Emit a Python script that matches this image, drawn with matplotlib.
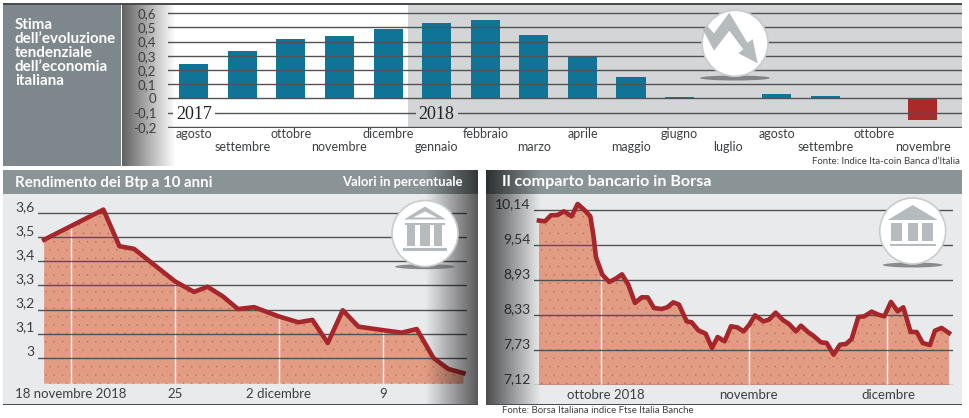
import numpy as np
import matplotlib
matplotlib.use('Agg')
import matplotlib.pyplot as plt
from matplotlib.patches import Rectangle, Circle, Ellipse, Polygon

W, H = 970, 418
plt.rcParams['font.family'] = ['Lato', 'DejaVu Sans']
plt.rcParams['hatch.linewidth'] = 0

# top chart
months = ['agosto', 'settembre', 'ottobre', 'novembre', 'dicembre', 'gennaio', 'febbraio', 'marzo',
          'aprile', 'maggio', 'giugno', 'luglio', 'agosto', 'settembre', 'ottobre', 'novembre']
estimate = [0.24, 0.335, 0.42, 0.44, 0.49, 0.53, 0.555, 0.45, 0.29, 0.15, 0.01, 0, 0.03, 0.015, 0.003, -0.15]
estimate_ticks = [0.6, 0.5, 0.4, 0.3, 0.2, 0.1, 0, -0.1, -0.2]
estimate_labels = ['0,6', '0,5', '0,4', '0,3', '0,2', '0,1', '0', '-0,1', '-0,2']

# Btp yield, x = days after 18 Nov 2018
btp_days = [-1.79, 2.2, 3.28, 4.26, 7.02, 8.3, 9.2, 10.23, 11.26, 12.34, 13.98, 15.32, 16.27, 17.3, 18.31,
            19.36, 21.05, 22.28, 23.29, 24.41, 25.42, 26.43]
btp_yield = [3.49, 3.615, 3.463, 3.452, 3.317, 3.273, 3.295, 3.255, 3.202, 3.21, 3.172, 3.147, 3.157, 3.061,
             3.197, 3.129, 3.114, 3.104, 3.119, 2.999, 2.953, 2.936]
btp_ticks = [3.6, 3.5, 3.4, 3.3, 3.2, 3.1, 3.0]
btp_tick_labels = ['3,6', '3,5', '3,4', '3,3', '3,2', '3,1', '3']
btp_xticks = [0, 7, 14, 21]
btp_xlabels = ['18 novembre 2018', '25', '2 dicembre', '9']

# bank index, x = position along the time axis
bank_x = [162, 180, 198, 218, 237, 260, 278, 297, 316, 325, 333, 352, 373, 392, 411, 430, 450, 470, 488, 507,
          530, 547, 565, 582, 605, 620, 640, 662, 681, 698, 719, 738, 757, 776, 793, 810, 835, 852, 872, 895,
          912, 933, 948, 970, 985, 1008, 1025, 1046, 1065, 1083, 1100, 1120, 1138, 1160, 1180, 1198, 1218,
          1238, 1255, 1277, 1295, 1313, 1335, 1350, 1370, 1392]
bank_value = [9.962, 9.95, 10.054, 10.059, 10.123, 10.036, 10.249, 10.152, 10.036, 9.72, 9.329, 9.03, 8.903,
              8.96, 9.035, 8.857, 8.54, 8.638, 8.638, 8.454, 8.437, 8.466, 8.552, 8.512, 8.224, 8.207, 8.069,
              8.011, 7.764, 7.953, 7.879, 8.138, 8.12, 8.051, 8.166, 8.327, 8.224, 8.253, 8.374, 8.241, 8.178,
              8.051, 8.149, 8.034, 7.976, 7.861, 7.85, 7.648, 7.821, 7.833, 7.919, 8.299, 8.31, 8.391, 8.339,
              8.31, 8.558, 8.397, 8.466, 8.04, 8.04, 7.85, 7.815, 8.063, 8.109, 8.022]
bank_ticks = [10.14, 9.54, 8.93, 8.33, 7.73, 7.12]
bank_tick_labels = ['10,14', '9,54', '8,93', '8,33', '7,73', '7,12']
bank_month_x = [347, 793, 1205]
bank_label_x = [364, 790, 1210]
bank_xlabels = ['ottobre 2018', 'novembre', 'dicembre']

TEXT = '#3c3f41'
GRID = '#4f5356'
BAND = '#8a9396'
BODY = '#e9eaec'
FILL = '#e39c84'
DOTS = '#c06f58'
LINE = '#a5262b'
ICON = '#b6bbbd'


def px_axes(fig, left, top, right, bottom, zorder):
    ax = fig.add_axes([left / W, 1 - bottom / H, (right - left) / W, (bottom - top) / H], zorder=zorder)
    ax.patch.set_visible(False)
    for s in ax.spines.values():
        s.set_visible(False)
    return ax


def fade(ax, x0, x1, y0, y1, a0, a1):
    # black overlay going from alpha a0 to alpha a1, left to right
    img = np.zeros((1, 128, 4))
    img[0, :, 3] = np.linspace(a0, a1, 128)
    ax.imshow(img, extent=(x0, x1, y1, y0), aspect='auto', interpolation='bilinear')


def line_chart(ax, x, y, bottom, month_x):
    ax.fill_between(x, y, bottom, facecolor=FILL, edgecolor=DOTS, hatch='..', linewidth=0, zorder=1)
    ax.vlines(month_x, bottom, np.interp(month_x, x, y), color='white', lw=1, zorder=1.5)
    ax.plot(x, y, color=LINE, lw=3.3, zorder=3, solid_joinstyle='round')
    ax.grid(axis='y', color=GRID, lw=1.0)
    ax.set_axisbelow(False)


def disc(ax, cx, cy, shadow_y, shadow_w):
    ax.add_patch(Ellipse((cx, shadow_y), shadow_w, 5, color='#55595c', alpha=0.65, lw=0))
    ax.add_patch(Circle((cx, cy), 33, facecolor='white', edgecolor='#c9cccd', lw=1.2))


def rect(ax, x0, x1, y0, y1):
    ax.add_patch(Rectangle((x0, y0), x1 - x0, y1 - y0, color=ICON, lw=0))


fig = plt.figure(figsize=(W / 100, H / 100), dpi=100, facecolor='white')

# panels behind the charts
bg = px_axes(fig, 0, 0, W, H, 0)
bg.add_patch(Rectangle((408, 4), 554, 123, color='#d3d5d7', lw=0))
bg.add_patch(Rectangle((3, 4), 118, 162, color='#7e878b', lw=0))
fade(bg, 122, 176, 4, 166, 0.62, 0)
bg.set_xlim(0, W)
bg.set_ylim(H, 0)
bg.axis('off')
bg.add_patch(Rectangle((3, 3), 959, 1.6, color='#4a4d4f', lw=0))
bg.add_patch(Rectangle((3, 170), 475, 234, color=BODY, lw=0))
bg.add_patch(Rectangle((486, 170), 476, 234, color=BODY, lw=0))
bg.add_patch(Rectangle((3, 170), 475, 24, color=BAND, lw=0))
bg.add_patch(Rectangle((486, 170), 476, 24, color=BAND, lw=0))

# top bars
ax1 = px_axes(fig, 168, 10, 962, 127.7, 1)
pos = np.arange(len(months))
ax1.bar(pos, estimate, width=0.6, color=['#0f7495' if v >= 0 else '#a92a28' for v in estimate], zorder=1)
ax1.set_xlim(-0.529, 15.81)
ax1.set_ylim(-0.207, 0.623)
ax1.set_yticks(estimate_ticks)
ax1.set_yticklabels(estimate_labels, fontsize=9.5, color=TEXT, va='center_baseline')
ax1.set_xticks(pos)
ax1.set_xticklabels([m if i % 2 == 0 else '\n' + m for i, m in enumerate(months)], fontsize=9, color=TEXT,
                    linespacing=1.05)
ax1.tick_params(axis='both', length=0)
ax1.tick_params(axis='y', pad=8.5)
ax1.tick_params(axis='x', pad=0.5)
ax1.grid(axis='y', color=GRID, lw=1.0)
ax1.set_axisbelow(False)
for x_txt, year, bgcol in [(0, '2017', 'white'), (5, '2018', '#d3d5d7')]:
    ax1.text(x_txt, -0.1, year, family='Liberation Serif', fontsize=13, color='#222222', ha='center',
             va='center_baseline', zorder=4, bbox=dict(facecolor=bgcol, edgecolor='none', pad=2.2))

# Btp
ax2 = px_axes(fig, 38.3, 200, 466.7, 383.7, 1)
line_chart(ax2, btp_days, btp_yield, 2.892, btp_xticks)
ax2.set_xlim(-2.18, 26.65)
ax2.set_ylim(2.892, 3.655)
ax2.set_yticks(btp_ticks)
ax2.set_yticklabels(btp_tick_labels, fontsize=10, color=TEXT, va='bottom')
ax2.set_xticks(btp_xticks)
ax2.set_xticklabels(btp_xlabels, fontsize=9.5, color=TEXT)
ax2.tick_params(axis='both', length=0, pad=3)

# banks
ax3 = px_axes(fig, 534.3, 190, 953.3, 385.3, 1)
line_chart(ax3, bank_x, bank_value, 7.12, bank_month_x)
ax3.set_xlim(148, 1405)
ax3.set_ylim(7.12, 10.49)
ax3.set_yticks(bank_ticks)
ax3.set_yticklabels(bank_tick_labels, fontsize=10, color=TEXT, va='bottom')
ax3.set_xticks(bank_label_x)
ax3.set_xticklabels(bank_xlabels, fontsize=9.5, color=TEXT)
ax3.tick_params(axis='both', length=0, pad=3)

# overlay: shading, icons, titles, sources
top = px_axes(fig, 0, 0, W, H, 2)
fade(top, 425, 478, 170, 404, 0, 0.62)
fade(top, 486, 541, 170, 404, 0.68, 0)
top.set_xlim(0, W)
top.set_ylim(H, 0)
top.axis('off')
top.add_patch(Rectangle((3, 403.6), 475, 1.5, color='#4a4d4f', lw=0))
top.add_patch(Rectangle((486, 403.6), 476, 1.5, color='#4a4d4f', lw=0))

# falling arrow
disc(top, 735, 43.3, 78, 70)
top.add_patch(Polygon([(702.7, 29.3), (707.3, 26), (714, 33.3), (729.3, 12.7), (747.3, 42.7), (752.7, 39.3),
                       (757.7, 63.3), (738.3, 53.3), (743.3, 49.3), (729.3, 30.7), (714, 50.7)],
                      color=ICON, lw=0))

# temple, left panel
cx, cy = 425, 233.5
disc(top, cx, cy, 266.7, 60)
top.add_patch(Polygon([(cx - 21, cy - 14), (cx, cy - 27), (cx + 21, cy - 14)], color=ICON, lw=0))
top.add_patch(Polygon([(cx - 12, cy - 16), (cx, cy - 22), (cx + 12, cy - 16)], color='white', lw=0))
rect(top, cx - 20, cx + 20, cy - 11, cy - 8.5)
for dx, w in [(-13.5, 8), (0, 10), (13.5, 8)]:
    rect(top, cx + dx - w / 2, cx + dx + w / 2, cy - 8.5, cy + 12)
rect(top, cx - 22, cx + 22, cy + 14.5, cy + 17.5)

# temple, right panel
cx, cy = 912.7, 231
disc(top, cx, cy, 265, 60)
top.add_patch(Polygon([(cx - 25, cy - 11), (cx, cy - 26), (cx + 25, cy - 11)], color=ICON, lw=0))
for dx, w in [(-16, 11), (0, 10), (15, 11)]:
    rect(top, cx + dx - w / 2, cx + dx + w / 2, cy - 8, cy + 10)
rect(top, cx - 23, cx + 23, cy + 13, cy + 15)

top.text(15, 53, "Stima\ndell’evoluzione\ntendenziale\ndell’economia\nitaliana", color='white', fontsize=10.9,
         fontweight='bold', va='center', ha='left', linespacing=1.0)
top.text(15, 182.5, 'Rendimento dei Btp a 10 anni', color='white', fontsize=10.8, fontweight='bold', va='center')
top.text(463, 182.5, 'Valori in percentuale', color='white', fontsize=9.4, fontweight='bold', va='center', ha='right')
top.text(502, 182, 'Il comparto bancario in Borsa', color='white', fontsize=11.6, fontweight='bold', va='center')
top.text(960, 162, "Fonte: Indice Ita-coin Banca d’Italia", color=TEXT, fontsize=6.9, va='center', ha='right')
top.text(502, 410.5, 'Fonte: Borsa Italiana indice Ftse Italia Banche', color=TEXT, fontsize=6.9, va='center')

fig.savefig('out.png', dpi=100)
